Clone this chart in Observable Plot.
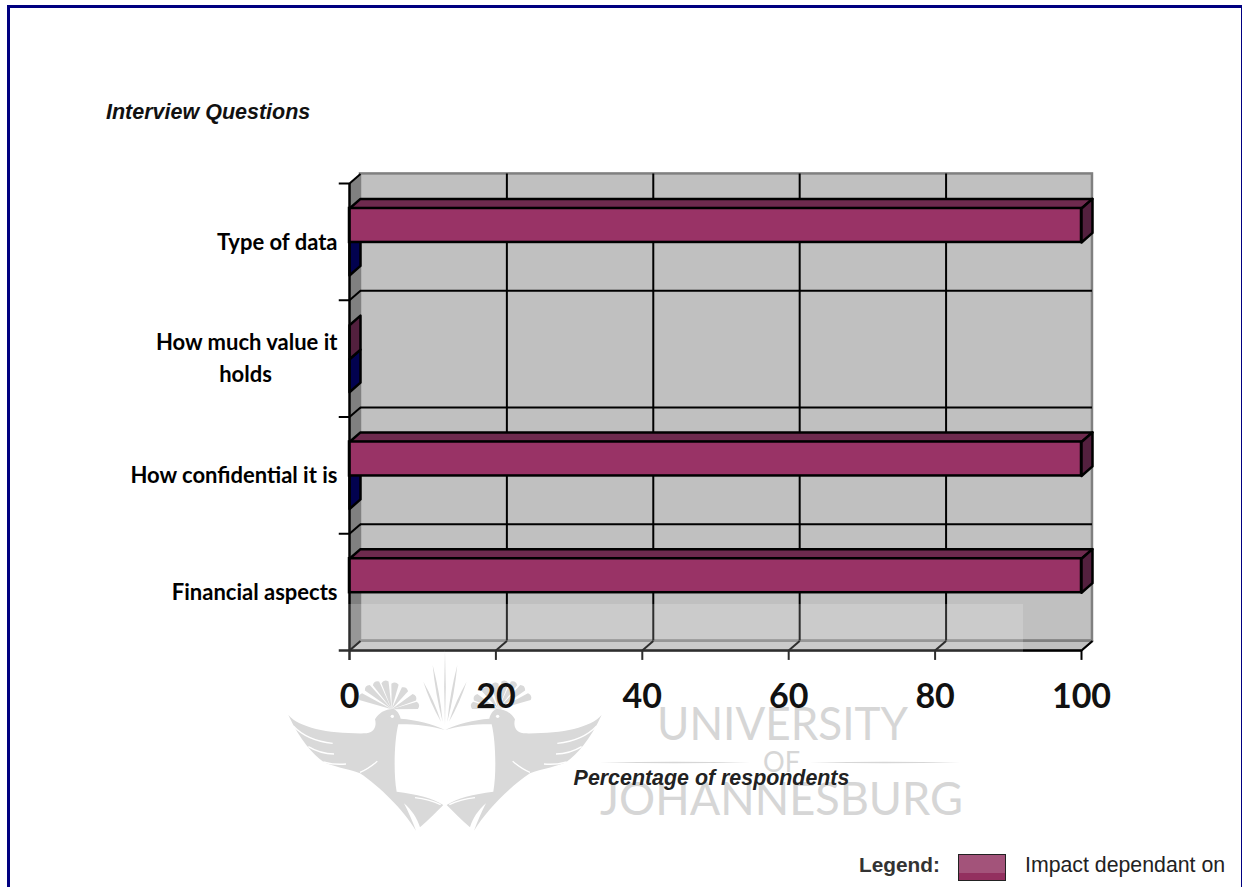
<!DOCTYPE html>
<html>
<head>
<meta charset="utf-8">
<script src="https://cdn.jsdelivr.net/npm/d3@7"></script>
<script src="https://cdn.jsdelivr.net/npm/@observablehq/plot@0.6"></script>
<style>
  html, body { margin: 0; padding: 0; background: #fff; overflow: hidden; }
  #page { position: relative; width: 1242px; height: 887px; overflow: hidden; }
  #page svg { position: absolute; left: 0; top: 0; }
  .frame { position: absolute; left: 7px; top: 5px; width: 1231px; height: 890px;
           border: 3px solid #000080; box-sizing: content-box; }
  .note { position: absolute; white-space: nowrap; font-family: "Liberation Sans", Arial, sans-serif; }
  #title { left: 106px; top: 100px; font-size: 21.5px; font-weight: bold; font-style: italic; color: #111; line-height: 24px; }
  #legendTitle { left: 859px; top: 853px; font-size: 20.8px; font-weight: bold; color: #333; line-height: 24px; }
  #legendName { left: 1025px; top: 853px; font-size: 21.3px; color: #222; line-height: 24px; }
  #swatch { position: absolute; left: 958px; top: 854px; width: 46px; height: 25px; border: 1.5px solid #222;
            background: linear-gradient(#a3537a 0 70%, #93305f 70% 100%); }
</style>
</head>
<body>
<div id="page"></div>
<script>
// Survey answers, listed from the top row of the chart to the bottom.
const questions = ["Type of data", "How much value it holds", "How confidential it is", "Financial aspects"];
const impactDependant = [100, 0, 100, 100];
const otherAnswer = [0, 0, 0, null];
const percentTicks = [0, 20, 40, 60, 80, 100];
const rowTicks = [0, 1, 2, 3, 4];

const colors = {
  wall: "#c0c0c0", edge: "#808080", line: "#000",
  front: "#993366", top: "#6e2a4e", side: "#53203e", otherSide: "#02024f"
};

// Oblique depth of the box, expressed in scale units.
const DX = 1.5, DY = 0.082;
// Vertical extents of the two bars inside one row, from the row's top.
const BAR_TOP = 0.214, BAR_MID = 0.505, BAR_END = 0.788;

const rows = questions.map((q, i) => ({
  q, top: rowTicks.length - 1 - i, mid: rowTicks.length - 1 - i - 0.5,
  impact: impactDependant[i], other: otherAnswer[i]
}));

// One closed polygon per record, for the Plot.line marks below.
const poly = (id, pts) => pts.map(([x, y]) => ({ id, x, y }));
const sideFace = (id, v, t, b) => poly(id, [[v, t], [v + DX, t + DY], [v + DX, b + DY], [v, b]]);
const topFace = (id, v, t) => poly(id, [[0, t], [DX, t + DY], [v + DX, t + DY], [v, t]]);
const face = (data, fill, strokeWidth = 2.5) =>
  Plot.line(data, { x: "x", y: "y", z: "id", fill, stroke: colors.line, strokeWidth, curve: "linear-closed" });

const otherSides = rows.filter(r => r.other != null)
  .flatMap((r, i) => sideFace("o" + i, r.other, r.top - BAR_MID, r.top - BAR_END));
const impactSides = rows.flatMap((r, i) => sideFace("s" + i, r.impact, r.top - BAR_TOP, r.top - BAR_MID));
const impactTops = rows.filter(r => r.impact > 0).flatMap((r, i) => topFace("t" + i, r.impact, r.top - BAR_TOP));
const impactFronts = rows.filter(r => r.impact > 0);

const leftWall = poly("wall", [[0, 0], [DX, DY], [DX, 4 + DY], [0, 4]]);
const floor = poly("floor", [[0, 0], [DX, DY], [100 + DX, DY], [100, 0]]);

// University crest and wordmark that sits faintly behind the lower labels.
function watermark() {
  const g = d3.create("svg:g").attr("text-anchor", "start");
  g.append("rect").attr("x", 290).attr("y", 604).attr("width", 733).attr("height", 226)
    .attr("fill", "#fff").attr("fill-opacity", 0.18);

  const lens = (x1, y1, x2, y2, w) => {
    const mx = (x1 + x2) / 2, my = (y1 + y2) / 2, nx = -(y2 - y1), ny = x2 - x1;
    const n = Math.hypot(nx, ny);
    const ox = nx / n * w, oy = ny / n * w;
    return `M${x1},${y1}Q${mx + ox},${my + oy} ${x2},${y2}Q${mx - ox},${my - oy} ${x1},${y1}Z`;
  };
  const wedge = (bx, by, tx, ty, w) => {
    const nx = -(ty - by), ny = tx - bx, n = Math.hypot(nx, ny);
    const ox = nx / n * w, oy = ny / n * w;
    return `M${bx},${by}L${tx + ox},${ty + oy}Q${tx + (tx - bx) / n * w},${ty + (ty - by) / n * w} ${tx - ox},${ty - oy}Z`;
  };
  const bird = "M25,225C60,265 150,282 260,280C285,278 290,255 285,238C295,218 320,205 342,207" +
    "C352,212 360,225 362,236C410,240 455,250 495,270C455,258 400,252 355,253C343,300 340,400 350,455" +
    "C410,462 460,475 490,495C470,515 445,540 420,562C412,535 395,510 372,490C385,515 398,545 408,572" +
    "C370,510 300,440 240,400C200,385 150,378 130,365C100,345 60,300 25,225Z";
  const slits = ["M40,258C70,290 110,305 158,310", "M85,320C110,335 135,342 162,342",
                 "M130,366C150,372 175,374 198,372", "M240,397C258,390 275,378 292,364",
                 "M405,473C430,476 460,484 482,494"];
  const crest = [[242, 170], [262, 143], [288, 130], [315, 127], [345, 133], [375, 148], [403, 172], [412, 196]];
  const rays = [[458, 75, 488, 245, 7], [430, 125, 483, 245, 7]];

  const half = g.append("g").attr("transform", "translate(280,640) scale(0.3333)");
  const other = g.append("g").attr("transform", "translate(280,640) scale(0.3333) translate(990,0) scale(-1,1)");
  for (const h of [half, other]) {
    h.append("path").attr("d", bird).attr("fill", "#d9d9d9");
    for (const s of slits) h.append("path").attr("d", s).attr("fill", "none").attr("stroke", "#fff").attr("stroke-width", 4);
    for (const [x, y] of crest) h.append("path").attr("d", wedge(335, 208, x, y, 11)).attr("fill", "#d9d9d9");
    for (const [x1, y1, x2, y2, w] of rays) h.append("path").attr("d", lens(x1, y1, x2, y2, w)).attr("fill", "#d9d9d9");
    h.append("circle").attr("cx", 337).attr("cy", 229).attr("r", 5).attr("fill", "#fff");
  }
  half.append("path").attr("d", lens(495, 30, 495, 255, 5)).attr("fill", "#d9d9d9");

  const word = (txt, x, y, len, size) => g.append("text").text(txt)
    .attr("x", x).attr("y", y).attr("textLength", len).attr("lengthAdjust", "spacingAndGlyphs")
    .attr("font-family", "Lato, 'Liberation Sans', sans-serif").attr("font-weight", 400)
    .attr("font-size", size).attr("fill", "#d6d6d6");
  word("UNIVERSITY", 657, 740, 251, 46);
  word("OF", 763, 772, 37, 28);
  word("JOHANNESBURG", 600, 815, 363, 46);
  g.append("path").attr("d", lens(600, 762.5, 750, 762.5, 1.6)).attr("fill", "#d6d6d6");
  g.append("path").attr("d", lens(810, 762.5, 960, 762.5, 1.6)).attr("fill", "#d6d6d6");
  return g.node();
}

const labelFont = { fontFamily: "Lato, 'Noto Sans', sans-serif", fontWeight: 700, fill: "#000" };
const singleLine = rows.filter(r => !r.q.includes("value"));

const chart = Plot.plot({
  width: 1242,
  height: 887,
  margin: 0,
  style: { background: "transparent", overflow: "visible" },
  x: { domain: [0, 100], range: [349, 1081], axis: null },
  y: { domain: [0, 4], range: [650, 183], axis: null },
  marks: [
    // Box walls and gridlines
    face(leftWall, colors.edge, 0),
    face(floor, colors.wall, 0),
    Plot.line(floor, { x: "x", y: "y", z: "id", stroke: colors.edge, strokeWidth: 2, curve: "linear-closed" }),
    Plot.rect([0], { x1: DX, x2: 100 + DX, y1: DY, y2: 4 + DY, fill: colors.wall, stroke: colors.edge, strokeWidth: 2.5 }),
    Plot.ruleX(percentTicks.slice(1, -1), { x: d => d + DX, y1: DY, y2: 4 + DY, stroke: colors.line, strokeWidth: 2 }),
    Plot.ruleY(rowTicks.slice(1, -1), { y: d => d + DY, x1: DX, x2: 100 + DX, stroke: colors.line, strokeWidth: 2 }),

    // Bars: the second series lies beneath the first
    face(otherSides, colors.otherSide),
    face(impactTops, colors.top),
    Plot.rect(impactFronts, {
      x1: 0, x2: "impact", y1: d => d.top - BAR_TOP, y2: d => d.top - BAR_MID,
      fill: colors.front, stroke: colors.line, strokeWidth: 2.5
    }),
    face(impactSides, colors.side),

    // Axes with their oblique tick returns
    Plot.ruleX([0], { y1: -0.085, y2: 4, stroke: colors.line, strokeWidth: 2.5 }),
    Plot.ruleY([0], { x1: -1.4, x2: 100, stroke: colors.line, strokeWidth: 2.5 }),
    Plot.ruleX(percentTicks.slice(1), { y1: -0.085, y2: 0, stroke: colors.line, strokeWidth: 2 }),
    Plot.ruleY(rowTicks.slice(1), { x1: -1.4, x2: 0, stroke: colors.line, strokeWidth: 2 }),
    Plot.link(percentTicks.slice(1), { x1: d => d, y1: 0, x2: d => d + DX, y2: DY, stroke: colors.line, strokeWidth: 2 }),
    Plot.link(rowTicks, { x1: 0, y1: d => d, x2: DX, y2: d => d + DY, stroke: colors.line, strokeWidth: 2 }),

    watermark,

    // Tick labels, category labels and the axis title
    Plot.text(percentTicks, {
      x: d => d, y: 0, dy: 47, text: d => String(d), fontSize: 34, ...labelFont, fill: "#111"
    }),
    Plot.text(singleLine, {
      x: 0, y: "mid", text: "q", dx: -12, dy: 1, textAnchor: "end", fontSize: 22, ...labelFont
    }),
    Plot.text(["How much value it"], {
      x: 0, y: rows[1].mid, dx: -12, dy: -16, textAnchor: "end", fontSize: 22, ...labelFont
    }),
    Plot.text(["holds"], {
      x: 0, y: rows[1].mid, dx: -104, dy: 16, fontSize: 22, ...labelFont
    }),
    Plot.text(["Percentage of respondents"], {
      x: 50, y: 0, dy: 128, dx: -4, fontSize: 21.4,
      fontFamily: "'Liberation Sans', Arial, sans-serif", fontWeight: 700, fontStyle: "italic", fill: "#222"
    })
  ]
});

const page = document.getElementById("page");
page.append(chart);
page.insertAdjacentHTML("beforeend", `
  <div class="frame"></div>
  <div class="note" id="title">Interview Questions</div>
  <div class="note" id="legendTitle">Legend:</div>
  <div id="swatch"></div>
  <div class="note" id="legendName">Impact dependant on</div>`);
</script>
</body>
</html>
